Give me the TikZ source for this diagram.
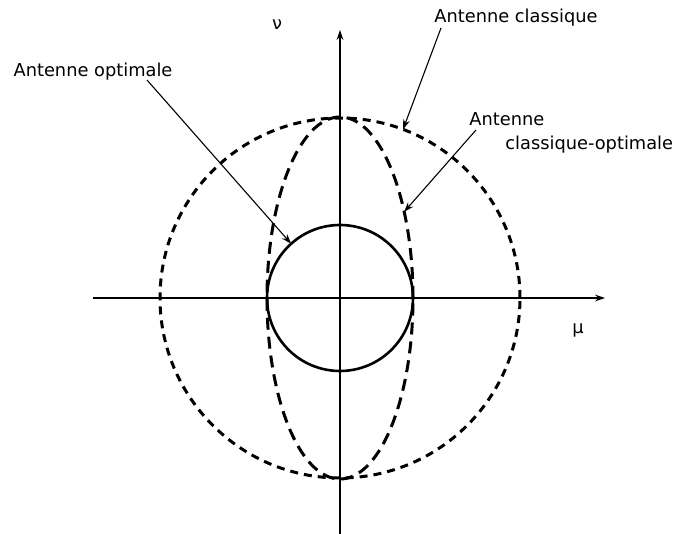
\documentclass[tikz,border=0pt]{standalone}
\usepackage{fontspec}
\setmainfont{DejaVu Sans}
\usetikzlibrary{arrows.meta,calc}
\tikzset{
  >={Stealth[length=5pt,width=3.4pt]},
  every node/.style={font=\fontsize{8.9}{12}\selectfont},
  % --- curves
  axis/.style     = {->, line width=0.7pt},
  optcurve/.style = {line width=1.3pt},
  clscurve/.style = {line width=1.5pt, dash pattern=on 4pt off 3pt},
  mixcurve/.style = {line width=1.5pt, dash pattern=on 6pt off 3.5pt},
  % --- labels
  lbl/.style      = {inner sep=1pt},
  ptr/.style      = {-{Stealth[length=5pt,width=3.4pt]}, line width=0.55pt},
}
\begin{document}
\begin{tikzpicture}[x=0.5pt,y=0.5pt]
  \useasboundingbox (-340,-236) rectangle (346,298);

  % axes
  \coordinate (o) at (0,0);
  \coordinate (xl) at (-247,0);
  \coordinate (xr) at (265,0);
  \coordinate (yb) at (0,-236);
  \coordinate (yt) at (0,268);
  \draw[axis] (xl) -- (xr);
  \draw[axis] (yb) -- (yt);
  \node[lbl] (mu) at (238,-32) {μ};
  \node[lbl] (nu) at (-63,273) {ν};

  % the three antennas
  \draw[clscurve] (o) circle (180);
  \draw[mixcurve] (o) ellipse (73 and 181);
  \draw[optcurve] (o) circle (73);

  % labels and pointers
  \node[lbl] (lopt) at (-247,226) {Antenne optimale};
  \node[lbl] (lcls) at (176,280) {Antenne classique};
  \node[lbl, align=left, anchor=north west] (lmix) at (127,188)
        {Antenne\\\hspace*{18pt}classique-optimale};

  \coordinate (popt) at (-193,218);
  \coordinate (pcls) at (101,270);
  \coordinate (pmix) at (136,168);
  \coordinate (topt) at (132:73);
  \coordinate (tcls) at (69.5:180);
  \coordinate (tmix) at (64,86);
  \foreach \a/\b in {popt/topt,pcls/tcls,pmix/tmix} \draw[ptr] (\a) -- (\b);
\end{tikzpicture}
\end{document}
